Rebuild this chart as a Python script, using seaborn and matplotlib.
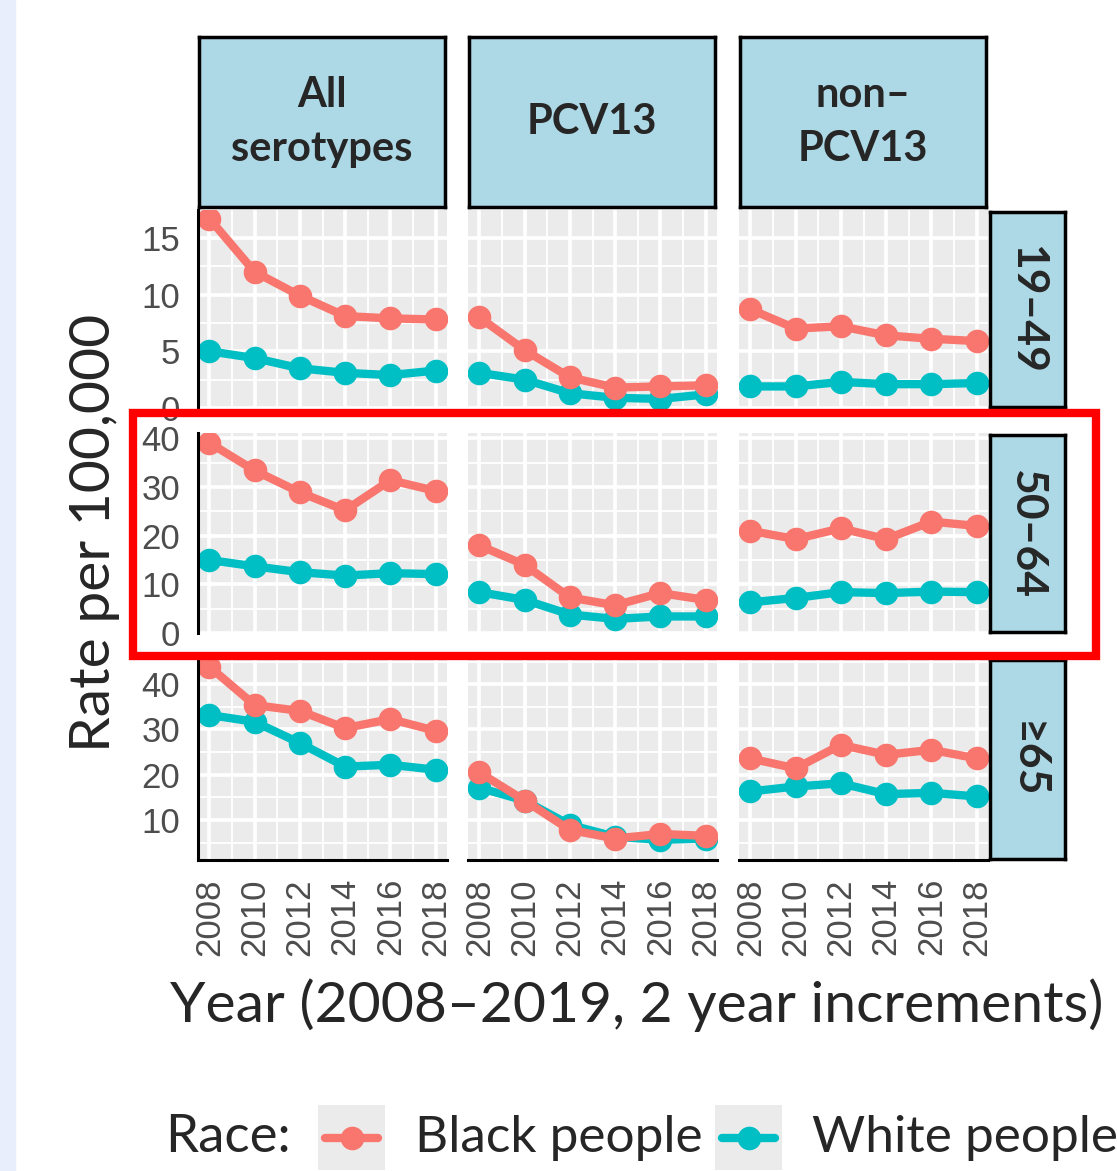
"""
Invasive pneumococcal disease rates by race, serotype group and age group.
ggplot-style facet grid redrawn with seaborn / matplotlib.
"""

import matplotlib
matplotlib.use("Agg")
import matplotlib.pyplot as plt
from matplotlib.lines import Line2D
from matplotlib.patches import Rectangle
from matplotlib.ticker import MultipleLocator
import pandas as pd
import seaborn as sns

# --------------------------------------------------------------------------- #
# Data
# --------------------------------------------------------------------------- #
years = [2008, 2010, 2012, 2014, 2016, 2018]
serotypes = ["All\nserotypes", "PCV13", "non\u2013\nPCV13"]
age_groups = ["19\u201349", "50\u201364", "\u226565"]
races = ["Black people", "White people"]

# age 19-49
black_all_19_49 = [16.7, 12.0, 9.9, 8.1, 7.9, 7.8]
white_all_19_49 = [5.0, 4.4, 3.5, 3.1, 2.9, 3.3]
black_pcv13_19_49 = [8.0, 5.1, 2.7, 1.8, 1.9, 2.0]
white_pcv13_19_49 = [3.1, 2.5, 1.3, 0.9, 0.8, 1.2]
black_non_19_49 = [8.7, 7.0, 7.2, 6.4, 6.1, 5.9]
white_non_19_49 = [1.9, 1.9, 2.3, 2.1, 2.1, 2.2]

# age 50-64
black_all_50_64 = [39.1, 33.4, 28.9, 25.2, 31.4, 29.2]
white_all_50_64 = [15.0, 13.7, 12.5, 11.8, 12.3, 12.1]
black_pcv13_50_64 = [18.0, 14.0, 7.3, 5.7, 8.2, 6.8]
white_pcv13_50_64 = [8.4, 6.8, 3.8, 2.9, 3.4, 3.4]
black_non_50_64 = [21.0, 19.3, 21.5, 19.3, 22.9, 22.0]
white_non_50_64 = [6.3, 7.2, 8.4, 8.2, 8.5, 8.4]

# age >=65
black_all_65 = [43.9, 35.4, 34.1, 30.3, 32.3, 29.7]
white_all_65 = [33.2, 31.7, 27.0, 21.8, 22.2, 21.1]
black_pcv13_65 = [20.5, 14.3, 7.8, 5.9, 6.9, 6.5]
white_pcv13_65 = [17.1, 14.3, 8.9, 6.3, 5.6, 5.9]
black_non_65 = [23.6, 21.4, 26.6, 24.4, 25.5, 23.6]
white_non_65 = [16.3, 17.4, 18.1, 15.7, 16.0, 15.2]

series = {
    (0, 0): (black_all_19_49, white_all_19_49),
    (0, 1): (black_pcv13_19_49, white_pcv13_19_49),
    (0, 2): (black_non_19_49, white_non_19_49),
    (1, 0): (black_all_50_64, white_all_50_64),
    (1, 1): (black_pcv13_50_64, white_pcv13_50_64),
    (1, 2): (black_non_50_64, white_non_50_64),
    (2, 0): (black_all_65, white_all_65),
    (2, 1): (black_pcv13_65, white_pcv13_65),
    (2, 2): (black_non_65, white_non_65),
}

records = []
for (r, c), (black, white) in series.items():
    for race, vals in zip(races, (black, white)):
        for yr, v in zip(years, vals):
            records.append({"age": age_groups[r], "serotype": serotypes[c],
                            "race": race, "year": yr, "rate": v})
df = pd.DataFrame(records)

# --------------------------------------------------------------------------- #
# Layout (pixel boxes)
# --------------------------------------------------------------------------- #
W, H = 1117, 1171
col_x = [(198, 447), (468, 717), (739, 988)]
row_y = [(210, 408), (433, 633), (658, 860)]
y_limits = [(0, 17.45), (0, 41.1), (1.15, 45.8)]
y_major = [5, 10, 10]

palette = {"Black people": "#F8766D", "White people": "#00BFC4"}
TICK_GREY = "#4d4d4d"
FONT = ["Lato", "DejaVu Sans"]          # titles, strips, legend
TICK_FONT = ["Liberation Sans", "DejaVu Sans"]  # tick labels
LW = 6.0
MS = 17


def px_rect(x0, y0, x1, y1):
    return [x0 / W, 1 - y1 / H, (x1 - x0) / W, (y1 - y0) / H]


sns.set_theme(style="darkgrid")
# tick labels are created at draw time from rcParams
plt.rcParams["font.family"] = TICK_FONT

fig = plt.figure(figsize=(W / 100, H / 100), dpi=100)
fig.patch.set_facecolor("white")

# faint blue strip on the far left
fig.add_artist(Rectangle((0, 0), 15 / W, 1, transform=fig.transFigure,
                         color="#e8eefb", zorder=0))

for r in range(3):
    for c in range(3):
        x0, x1 = col_x[c]
        y0, y1 = row_y[r]
        ax = fig.add_axes(px_rect(x0, y0, x1, y1))
        ax.set_facecolor("#ebebeb")
        sub = df[(df["age"] == age_groups[r]) & (df["serotype"] == serotypes[c])]
        sns.lineplot(data=sub, x="year", y="rate", hue="race",
                     hue_order=["White people", "Black people"],
                     palette=palette, marker="o", markersize=MS,
                     markeredgewidth=0, linewidth=LW, legend=False, ax=ax)

        ax.set_xlim(2007.5, 2018.5)
        ax.set_ylim(*y_limits[r])
        ax.xaxis.set_major_locator(MultipleLocator(2))
        ax.xaxis.set_minor_locator(MultipleLocator(1))
        ax.yaxis.set_major_locator(MultipleLocator(y_major[r]))
        ax.yaxis.set_minor_locator(MultipleLocator(y_major[r] / 2))
        ax.grid(which="major", color="white", linewidth=2.6)
        ax.grid(which="minor", color="white", linewidth=1.3)
        ax.set_axisbelow(True)
        ax.set_xlabel("")
        ax.set_ylabel("")
        for s in ax.spines.values():
            s.set_visible(False)
        ax.tick_params(which="minor", length=0)

        if c == 0:
            ax.spines["left"].set_visible(True)
            ax.spines["left"].set_color("black")
            ax.spines["left"].set_linewidth(2.2)
            ax.tick_params(axis="y", which="major", length=7, width=2.2,
                           color="black", labelcolor=TICK_GREY,
                           labelsize=25, pad=6)
        else:
            ax.tick_params(axis="y", which="major", length=0, labelleft=False)

        if r == 2:
            ax.spines["bottom"].set_visible(True)
            ax.spines["bottom"].set_color("black")
            ax.spines["bottom"].set_linewidth(2.2)
            ax.tick_params(axis="x", which="major", length=7, width=2.2,
                           color="black", labelcolor=TICK_GREY,
                           labelsize=25, labelrotation=90, pad=6)
        else:
            ax.tick_params(axis="x", which="major", length=0, labelbottom=False)

# column strips
for c, label in enumerate(serotypes):
    x0, x1 = col_x[c]
    sax = fig.add_axes(px_rect(x0 + 1, 37, x1 - 2, 207))
    sax.set_facecolor("#add8e6")
    sax.set_xticks([])
    sax.set_yticks([])
    for s in sax.spines.values():
        s.set_visible(True)
        s.set_color("black")
        s.set_linewidth(2.5)
    sax.text(0.5, 0.5, label, ha="center", va="center", fontsize=30,
             fontweight="bold", linespacing=1.5, family=FONT,
             transform=sax.transAxes)

# row strips
for r, label in enumerate(age_groups):
    y0, y1 = row_y[r]
    sax = fig.add_axes(px_rect(990, y0 + 2, 1065, y1 - 1))
    sax.set_facecolor("#add8e6")
    sax.set_xticks([])
    sax.set_yticks([])
    for s in sax.spines.values():
        s.set_visible(True)
        s.set_color("black")
        s.set_linewidth(2.5)
    sax.text(0.5, 0.5, label, ha="center", va="center", fontsize=32,
             fontweight="bold", rotation=-90, family=FONT,
             transform=sax.transAxes)

# axis titles
fig.text(95 / W, 1 - 533 / H, "Rate per 100,000", rotation=90,
         ha="center", va="center", fontsize=41, family=FONT)
fig.text(637 / W, 1 - 1005 / H, "Year (2008\u20132019, 2 year increments)",
         ha="center", va="center", fontsize=41, family=FONT)

# legend
fig.text(165 / W, 1 - 1138 / H, "Race:", ha="left", va="center",
         fontsize=38, family=FONT)
for (kx0, kx1, tx), race in zip([(318, 385, 415), (715, 782, 812)], races):
    kax = fig.add_axes(px_rect(kx0, 1105, kx1, 1170))
    kax.set_facecolor("#ebebeb")
    kax.set_xlim(0, 1)
    kax.set_ylim(0, 1)
    kax.grid(False)
    kax.set_xticks([])
    kax.set_yticks([])
    for s in kax.spines.values():
        s.set_visible(False)
    kax.add_line(Line2D([0.1, 0.9], [0.5, 0.5], color=palette[race],
                        linewidth=LW))
    kax.add_line(Line2D([0.5], [0.5], color=palette[race], marker="o",
                        markersize=MS, markeredgewidth=0))
    fig.text(tx / W, 1 - 1138 / H, race, ha="left", va="center",
             fontsize=37, family=FONT)

# highlight box around the 50-64 row
fig.add_artist(Rectangle((133 / W, 1 - 656 / H), (1096 - 133) / W,
                         (656 - 413) / H, transform=fig.transFigure,
                         fill=False, edgecolor="#ff0000", linewidth=6,
                         zorder=10))

fig.savefig("out.png", dpi=100)
plt.close(fig)
